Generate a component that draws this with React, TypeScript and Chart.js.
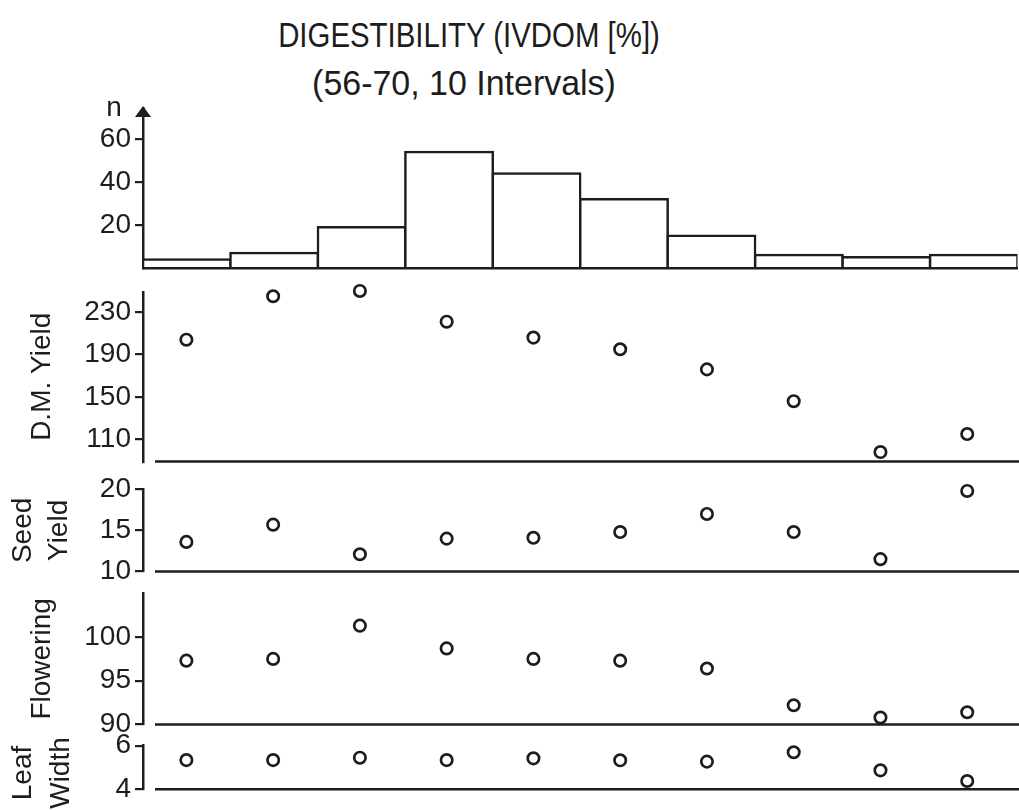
import React, { useEffect, useRef } from 'react';
import { Chart, registerables } from 'chart.js';

Chart.register(...registerables);

// IVDOM classes: 56–70 % split into 10 equal intervals
const intervals = [
  '56.0–57.4', '57.4–58.8', '58.8–60.2', '60.2–61.6', '61.6–63.0',
  '63.0–64.4', '64.4–65.8', '65.8–67.2', '67.2–68.6', '68.6–70.0',
];

// number of entries per class
const counts = [4, 7, 19, 54, 44, 32, 15, 6, 5, 6];

// class means of the other traits
const dmYield = [204, 245, 250, 221, 206, 195, 176, 146, 98, 115];
const seedYield = [13.6, 15.7, 12.1, 14.0, 14.1, 14.8, 17.0, 14.8, 11.5, 19.8];
const flowering = [97.3, 97.5, 101.3, 98.7, 97.5, 97.3, 96.4, 92.2, 90.8, 91.4];
const leafWidth = [5.34, 5.34, 5.45, 5.34, 5.42, 5.33, 5.27, 5.7, 4.87, 4.38];

// tick labels of each panel
const countTicks = [20, 40, 60];
const dmTicks = [110, 150, 190, 230];
const seedTicks = [10, 15, 20];
const floweringTicks = [90, 95, 100];
const leafTicks = [4, 6];

const titleLines = ['DIGESTIBILITY (IVDOM [%])', '(56-70, 10 Intervals)'];
const leafCaption = ['Leaf', 'Width'];

const INK = '#1d1d1d';
const FONT = "'Liberation Sans', Arial, Helvetica, sans-serif";
const AXIS_WIDTH = 143;
const PAGE_W = 1019;

function yAxis(
  min: number,
  max: number,
  values: number[],
  title?: string | string[],
  titleOffset = 0,
): any {
  return {
    type: 'linear',
    position: 'left',
    min,
    max,
    afterBuildTicks: (scale: any) => {
      scale.ticks = values.map((value) => ({ value }));
    },
    afterFit: (scale: any) => {
      scale.width = AXIS_WIDTH;
      scale.paddingTop = 0;
      scale.paddingBottom = 0;
    },
    grid: {
      display: true,
      drawOnChartArea: false,
      drawTicks: true,
      tickLength: 8,
      color: INK,
      lineWidth: 2.2,
    },
    border: { display: true, color: INK, width: 2.5 },
    ticks: { color: INK, padding: 4, autoSkip: false, font: { family: FONT, size: 28 } },
    title: title
      ? {
          display: true,
          text: title,
          color: INK,
          font: { family: FONT, size: 28, lineHeight: 1.3 },
          padding: { top: titleOffset, bottom: 0 },
        }
      : { display: false },
  };
}

// arrow head on the count axis plus its "n" label
const countArrow = {
  id: 'countArrow',
  afterDraw(chart: any) {
    const { ctx, chartArea } = chart;
    const { left, top } = chartArea;
    ctx.save();
    ctx.fillStyle = INK;
    ctx.beginPath();
    ctx.moveTo(left, top - 2);
    ctx.lineTo(left - 8, top + 9);
    ctx.lineTo(left + 8, top + 9);
    ctx.closePath();
    ctx.fill();
    ctx.font = `28px ${FONT}`;
    ctx.textAlign = 'center';
    ctx.textBaseline = 'alphabetic';
    ctx.fillText('n', left - 29, top + 8);
    ctx.restore();
  },
};

// base line of every trait panel, detached from the value axis
const panelBaseline = {
  id: 'panelBaseline',
  beforeDatasetsDraw(chart: any) {
    const { ctx, chartArea, width } = chart;
    ctx.save();
    ctx.strokeStyle = INK;
    ctx.lineWidth = 2.5;
    ctx.beginPath();
    ctx.moveTo(chartArea.left + 12, chartArea.bottom);
    ctx.lineTo(width, chartArea.bottom);
    ctx.stroke();
    ctx.restore();
  },
};

// two-line caption of the leaf panel (too long for its short axis)
const leafCaptionPlugin = {
  id: 'leafCaption',
  afterDraw(chart: any) {
    const { ctx } = chart;
    ctx.save();
    ctx.translate(0, 48);
    ctx.rotate(-Math.PI / 2);
    ctx.font = `28px ${FONT}`;
    ctx.fillStyle = INK;
    ctx.textAlign = 'center';
    ctx.textBaseline = 'middle';
    ctx.fillText(leafCaption[0], 0, 23.3);
    ctx.fillText(leafCaption[1], 0, 61);
    ctx.restore();
  },
};

const baseOptions = (padTop: number, padBottom: number) => ({
  responsive: false,
  animation: false as const,
  events: [] as any[],
  layout: { padding: { top: padTop, bottom: padBottom, left: 0, right: 1.5 } },
  plugins: { legend: { display: false }, tooltip: { enabled: false } },
});

function buildHistogram(canvas: HTMLCanvasElement) {
  return new Chart(canvas, {
    type: 'bar',
    data: {
      labels: intervals,
      datasets: [
        {
          data: counts,
          backgroundColor: '#ffffff',
          borderColor: INK,
          borderWidth: 2.5,
          borderSkipped: 'start',
          inflateAmount: 1.25,
          barPercentage: 1,
          categoryPercentage: 1,
        } as any,
      ],
    },
    options: {
      ...baseOptions(13, 12),
      scales: {
        x: {
          type: 'category',
          offset: true,
          grid: { display: false },
          ticks: { display: false },
          border: { display: true, color: INK, width: 2.5, z: 1 },
          afterFit: (scale: any) => {
            scale.height = 0;
            scale.paddingLeft = 0;
            scale.paddingRight = 0;
          },
        },
        y: yAxis(0, 74.5, countTicks),
      },
    } as any,
    plugins: [countArrow],
  });
}

function buildTraitPanel(
  canvas: HTMLCanvasElement,
  values: number[],
  y: any,
  padTop: number,
  padBottom: number,
  extra: any[] = [],
) {
  return new Chart(canvas, {
    type: 'line',
    data: {
      labels: intervals,
      datasets: [
        {
          data: values,
          showLine: false,
          pointStyle: 'circle',
          pointRadius: 5.7,
          pointBorderWidth: 2.7,
          pointBackgroundColor: 'rgba(0,0,0,0)',
          pointBorderColor: INK,
          clip: false,
        } as any,
      ],
    },
    options: {
      ...baseOptions(padTop, padBottom),
      scales: {
        x: { type: 'category', offset: true, display: false },
        y,
      },
    } as any,
    plugins: [panelBaseline, ...extra],
  });
}

const panels = [
  { key: 'hist', top: 95, height: 185, build: (c: HTMLCanvasElement) => buildHistogram(c) },
  {
    key: 'dm',
    top: 280,
    height: 190,
    build: (c: HTMLCanvasElement) =>
      buildTraitPanel(c, dmYield, yAxis(89, 249, dmTicks, 'D.M. Yield', 24.3), 12, 6.7),
  },
  {
    key: 'seed',
    top: 465,
    height: 130,
    build: (c: HTMLCanvasElement) =>
      buildTraitPanel(c, seedYield, yAxis(10, 20, seedTicks, ['Seed', 'Yield'], 5), 24.3, 23.5),
  },
  {
    key: 'flowering',
    top: 575,
    height: 170,
    build: (c: HTMLCanvasElement) =>
      buildTraitPanel(c, flowering, yAxis(90, 105, floweringTicks, 'Flowering', 24.3), 18.3, 20.5),
  },
  {
    key: 'leaf',
    top: 725,
    height: 85,
    build: (c: HTMLCanvasElement) =>
      buildTraitPanel(c, leafWidth, yAxis(4, 6, leafTicks), 20.7, 20.7, [leafCaptionPlugin]),
  },
];

function ChartCanvas({
  top,
  height,
  build,
}: {
  top: number;
  height: number;
  build: (c: HTMLCanvasElement) => Chart;
}) {
  const ref = useRef<HTMLCanvasElement | null>(null);
  useEffect(() => {
    if (!ref.current) return;
    const chart = build(ref.current);
    return () => chart.destroy();
  }, [build]);
  return (
    <canvas
      ref={ref}
      width={PAGE_W}
      height={height}
      style={{ position: 'absolute', left: 0, top, width: PAGE_W, height }}
    />
  );
}

export default function App() {
  const titleStyle = {
    position: 'absolute' as const,
    left: 0,
    margin: 0,
    fontFamily: FONT,
    fontSize: 35,
    lineHeight: '35px',
    fontWeight: 400,
    color: INK,
    textAlign: 'center' as const,
    whiteSpace: 'pre' as const,
  };
  return (
    <div
      style={{
        position: 'absolute',
        left: 0,
        top: 0,
        width: PAGE_W,
        height: 810,
        overflow: 'hidden',
        background: '#ffffff',
      }}
    >
      <div style={{ ...titleStyle, top: 17, width: 938, transform: 'scaleX(0.84)' }}>{titleLines[0]}</div>
      <div style={{ ...titleStyle, top: 65, width: 928, transform: 'scaleX(0.97)' }}>{titleLines[1]}</div>
      {panels.map((p) => (
        <ChartCanvas key={p.key} top={p.top} height={p.height} build={p.build} />
      ))}
    </div>
  );
}
